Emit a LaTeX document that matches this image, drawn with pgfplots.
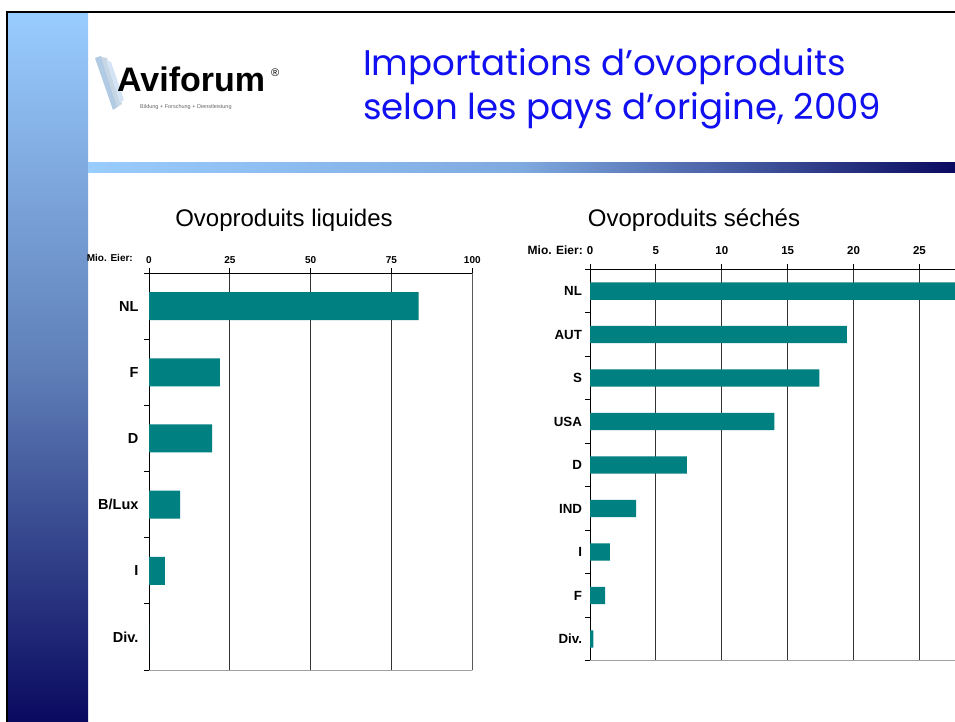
\documentclass[border=0pt]{standalone}
\usepackage{fontspec}
\setmainfont{Liberation Sans}
\newfontfamily\titlefont{Poppins}
\usepackage{pgfplots}
\pgfplotsset{compat=1.18}
\definecolor{barteal}{HTML}{008080}
\definecolor{titleblue}{HTML}{1010F0}
\definecolor{bandtop}{HTML}{99CCFF}
\definecolor{bandmid}{HTML}{5F7FB8}
\definecolor{bandbot}{HTML}{0A0A60}
\definecolor{gridc}{HTML}{333333}
\definecolor{framegray}{HTML}{A0A0A0}

\pgfplotsset{
  ovo/.style={
    scale only axis,
    xbar,
    axis x line*=top,
    axis y line*=left,
    axis line style={-, black, line width=0.9pt},
    y dir=reverse,
    tick align=outside,
    major tick length=5pt,
    xmajorgrids,
    grid style={gridc, line width=0.9pt},
    tick style={black, line width=0.9pt},
    yticklabels={,,,,,,,,,,,},
    /pgf/number format/assume math mode=true,
    enlargelimits=false,
    extra y tick style={major tick length=0pt, grid=none},
  }
}

\begin{document}
\begin{tikzpicture}[x=1pt, y=-1pt]
\useasboundingbox (0,0) rectangle (955,722);
\fill[white] (0,0) rectangle (955,722);

% slide decoration
\shade[top color=bandtop, bottom color=bandbot, middle color=bandmid] (8,12) rectangle (88,722);
\shade[left color=bandtop, right color=bandbot, middle color=bandtop!55!bandmid] (88,163) rectangle (955,172.5);
\draw[black, line width=2.5pt] (7,722) -- (7,12) -- (955,12);

% logo
\fill[gray!30!bandtop!70] (95,58) -- (101,56) -- (119,106) -- (113,110) -- cycle;
\fill[gray!40!bandtop!50] (101,57) -- (107,58) -- (122,104) -- (117,107) -- cycle;
\fill[gray!20!bandtop!40] (106,60) -- (111,62) -- (124,100) -- (120,103) -- cycle;
\node[anchor=base west, inner sep=0pt, font=\fontsize{34}{34}\selectfont\bfseries] at (117,92) {Aviforum};
\node[anchor=base west, inner sep=0pt, font=\fontsize{11}{11}\selectfont] at (271,77) {®};
\node[anchor=base west, inner sep=0pt, text=gray!80!black, font=\fontsize{5.5}{6}\selectfont] at (140,109) {Bildung + Forschung + Dienstleistung};

% title
\node[anchor=base west, inner sep=0pt, text=titleblue, font=\titlefont\fontsize{35.6}{40}\selectfont] at (363,76) {Importations d’ovoproduits};
\node[anchor=base west, inner sep=0pt, text=titleblue, font=\titlefont\fontsize{35.6}{40}\selectfont] at (363,120) {selon les pays d’origine, 2009};

% chart titles
\node[anchor=base, inner sep=0pt, font=\fontsize{24}{26}\selectfont] at (284,226.7) {Ovoproduits liquides};
\node[anchor=base, inner sep=0pt, font=\fontsize{24}{26}\selectfont] at (694,226.7) {Ovoproduits séchés};

\coordinate (leftNW) at (149,273);
\coordinate (rightNW) at (590,269.3);

% left chart: liquid egg products
\begin{axis}[ovo,
  at={(leftNW)}, anchor=north west,
  width=323.3pt, height=397pt,
  xmin=0, xmax=100, xtick={0,25,50,75,100},
  ymin=-0.5, ymax=5.5,
  ytick={-0.5,0.5,1.5,2.5,3.5,4.5,5.5},
  extra y ticks={0,1,2,3,4,5},
  extra y tick labels={NL,F,D,B/Lux,I,Div.},
  extra y tick style={yticklabel style={font=\fontsize{14.5}{16}\selectfont\bfseries, xshift=-7pt}},
  xticklabel style={font=\fontsize{10}{12}\selectfont\bfseries, yshift=1pt},
]
\addplot[fill=barteal, draw=none, bar width=28pt] coordinates {
  (83.4,0) (21.9,1) (19.5,2) (9.6,3) (4.9,4) (0,5)
};
\draw[framegray, line width=1pt] (axis cs:0,5.5) -- (axis cs:100,5.5) -- (axis cs:100,-0.5);
\end{axis}
\node[anchor=east, inner sep=0pt, font=\fontsize{10}{12}\selectfont\bfseries] at (133,258) {Mio. Eier:};

% right chart: dried egg products
\begin{axis}[ovo,
  at={(rightNW)}, anchor=north west,
  width=365pt, height=391.4pt,
  xmin=0, xmax=27.7, xtick={0,5,10,15,20,25},
  ymin=-0.5, ymax=8.5,
  ytick={-0.5,0.5,1.5,2.5,3.5,4.5,5.5,6.5,7.5,8.5},
  extra y ticks={0,1,2,3,4,5,6,7,8},
  extra y tick labels={NL,AUT,S,USA,D,IND,I,F,Div.},
  extra y tick style={yticklabel style={font=\fontsize{13.3}{15}\selectfont\bfseries, xshift=-4.5pt}},
  xticklabel style={font=\fontsize{11.5}{13}\selectfont\bfseries, yshift=6pt},
]
\addplot[fill=barteal, draw=none, bar width=17.4pt] coordinates {
  (28,0) (19.5,1) (17.4,2) (14.0,3) (7.35,4) (3.5,5) (1.5,6) (1.15,7) (0.25,8)
};
\draw[framegray, line width=1pt] (axis cs:0,8.5) -- (axis cs:27.7,8.5);
\end{axis}
\node[anchor=east, inner sep=0pt, font=\fontsize{12}{14}\selectfont\bfseries] at (583,250) {Mio. Eier:};
\end{tikzpicture}
\end{document}
